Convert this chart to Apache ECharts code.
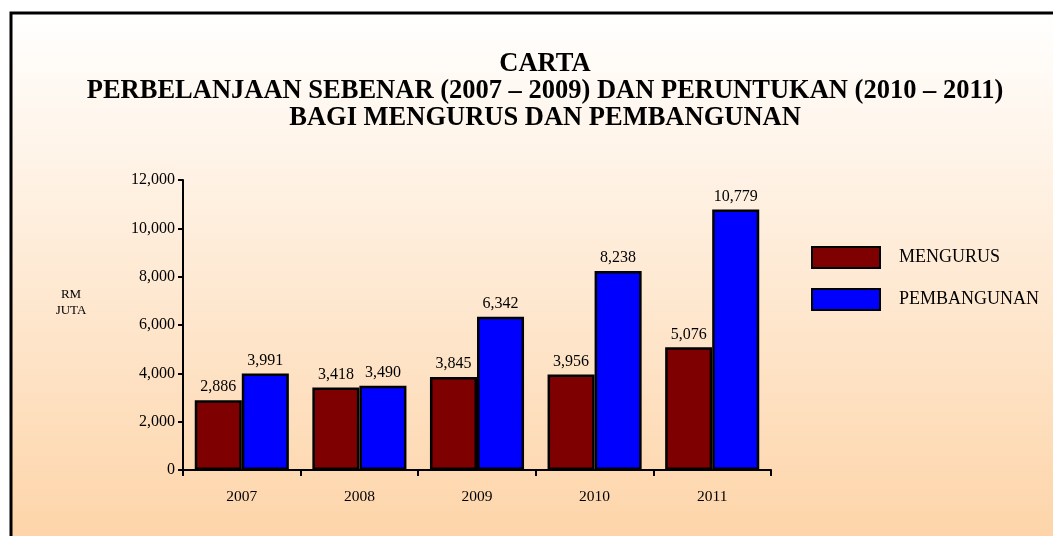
<!DOCTYPE html>
<html>
<head>
<meta charset="utf-8">
<script src="https://cdn.jsdelivr.net/npm/echarts@6/dist/echarts.min.js"></script>
<style>
html,body{margin:0;padding:0;background:#fff;}
#c{width:1053px;height:536px;}
</style>
</head>
<body>
<div id="c"></div>
<script>
const categories = ['2007', '2008', '2009', '2010', '2011'];
const mengurus = [2886, 3418, 3845, 3956, 5076];
const pembangunan = [3991, 3490, 6342, 8238, 10779];
const seriesNames = ['MENGURUS', 'PEMBANGUNAN'];
const titleText = 'CARTA\nPERBELANJAAN SEBENAR (2007 – 2009) DAN PERUNTUKAN (2010 – 2011)\nBAGI MENGURUS DAN PEMBANGUNAN';
const unitText = 'RM\nJUTA';

const serif = '"Liberation Serif", "DejaVu Serif", serif';
const fmt = v => Number(v).toLocaleString('en-US');

const chart = echarts.init(document.getElementById('c'), null, {renderer: 'canvas'});
chart.setOption({
  backgroundColor: '#ffffff',
  animation: false,
  graphic: [
    {
      type: 'rect', z: -10, silent: true,
      shape: {x: 11, y: 13, width: 1060, height: 540},
      style: {
        fill: new echarts.graphic.LinearGradient(0, 0, 0, 1, [
          {offset: 0, color: '#ffffff'},
          {offset: 1, color: '#fdd3a6'}
        ]),
        stroke: '#000', lineWidth: 3
      }
    },
    {
      type: 'text', x: 71, y: 303, z: 10,
      style: {text: unitText, font: '13px ' + serif, fill: '#000', align: 'center', verticalAlign: 'middle', lineHeight: 16}
    }
  ],
  title: {
    text: titleText,
    left: 540, top: 46, textAlign: 'center',
    textStyle: {fontFamily: serif, fontWeight: 'bold', fontSize: 26.5, color: '#000', lineHeight: 27}
  },
  legend: {
    orient: 'vertical', left: 806, top: 241, itemWidth: 68, itemHeight: 21, itemGap: 19,
    icon: 'rect',
    data: seriesNames,
    textStyle: {fontFamily: serif, fontSize: 18, color: '#000', padding: [0, 0, 0, 14]}
  },
  grid: {left: 183, right: 282, top: 180, bottom: 66, containLabel: false},
  xAxis: {
    type: 'category', data: categories,
    axisLine: {lineStyle: {color: '#000', width: 2}},
    axisTick: {show: true, length: 6, lineStyle: {color: '#000', width: 2}},
    axisLabel: {fontFamily: serif, fontSize: 15.5, color: '#000', margin: 19}
  },
  yAxis: {
    type: 'value', min: 0, max: 12000, interval: 2000,
    axisLine: {show: true, lineStyle: {color: '#000', width: 2}},
    axisTick: {show: true, length: 5, lineStyle: {color: '#000', width: 2}},
    splitLine: {show: false},
    axisLabel: {fontFamily: serif, fontSize: 16, color: '#000', margin: 8, formatter: fmt}
  },
  series: [
    {
      name: seriesNames[0], type: 'bar', data: mengurus,
      barGap: '0%', barCategoryGap: '20%',
      itemStyle: {color: '#7f0000', borderColor: '#000', borderWidth: 2.5},
      label: {show: true, position: 'top', distance: 5, fontFamily: serif, fontSize: 16, color: '#000', formatter: p => fmt(p.value)}
    },
    {
      name: seriesNames[1], type: 'bar', data: pembangunan,
      barGap: '0%', barCategoryGap: '20%',
      itemStyle: {color: '#0000ff', borderColor: '#000', borderWidth: 2.5},
      label: {show: true, position: 'top', distance: 5, fontFamily: serif, fontSize: 16, color: '#000', formatter: p => fmt(p.value)}
    }
  ]
});
</script>
</body>
</html>
